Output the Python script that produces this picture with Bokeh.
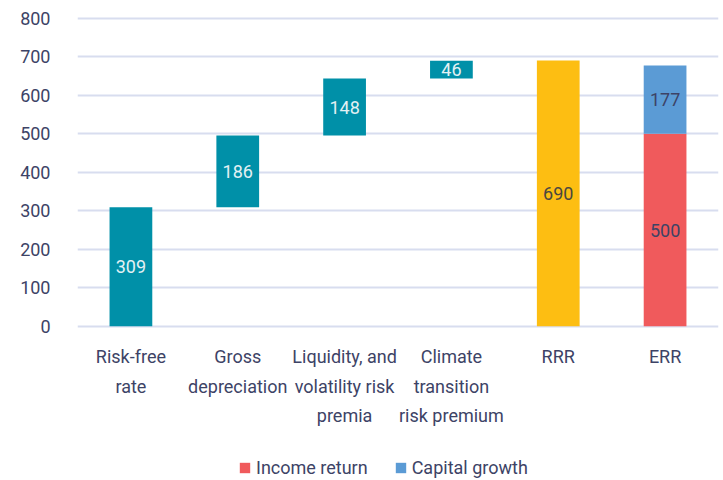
from bokeh.plotting import figure
from bokeh.models import ColumnDataSource, Legend, LegendItem, FactorRange, Range1d, FixedTicker
from bokeh.core.properties import value
from bokeh.embed import file_html
from bokeh.resources import INLINE

# ---- data ----
categories = ["Risk-free\nrate", "Gross\ndepreciation", "Liquidity, and\nvolatility risk\npremia",
              "Climate\ntransition\nrisk premium", "RRR", "ERR"]
step_values = [309, 186, 148, 46]
rrr_value = 690
income_return = 500
capital_growth = 177
y_ticks = [0, 100, 200, 300, 400, 500, 600, 700, 800]

FONT = "Roboto"
TXT = "#3d4366"

# waterfall bottoms / tops
bottoms, tops = [], []
run = 0
for v in step_values:
    bottoms.append(run)
    run += v
    tops.append(run)

steps = ColumnDataSource(dict(x=categories[:4], bottom=bottoms, top=tops,
                              mid=[(b + t) / 2 for b, t in zip(bottoms, tops)],
                              lab=[str(v) for v in step_values]))
rrr = ColumnDataSource(dict(x=[categories[4]], bottom=[0], top=[rrr_value],
                            mid=[rrr_value / 2], lab=[str(rrr_value)]))
inc = ColumnDataSource(dict(x=[categories[5]], bottom=[0], top=[income_return],
                           mid=[income_return / 2], lab=[str(income_return)]))
cap = ColumnDataSource(dict(x=[categories[5]], bottom=[income_return], top=[income_return + capital_growth],
                           mid=[income_return + capital_growth / 2], lab=[str(capital_growth)]))

# frame extends below zero so the category labels and legend sit inside it
p = figure(x_range=FactorRange(*categories), y_range=Range1d(-400, 804),
           frame_width=641, frame_height=464,
           min_border_left=77, min_border_top=16, min_border_right=5, min_border_bottom=0,
           output_backend="svg", toolbar_location=None)

W = 0.4
p.vbar(x="x", bottom="bottom", top="top", width=W, source=steps, color="#0090a8", line_color=None)
p.vbar(x="x", bottom="bottom", top="top", width=W, source=rrr, color="#fdbe12", line_color=None)
r_inc = p.vbar(x="x", bottom="bottom", top="top", width=W, source=inc, color="#f05a5c", line_color=None)
r_cap = p.vbar(x="x", bottom="bottom", top="top", width=W, source=cap, color="#5b9bd5", line_color=None)

for src, col in [(steps, "#e3f1f4"), (rrr, "#4a4740"), (inc, TXT), (cap, TXT)]:
    p.text(x="x", y="mid", text="lab", source=src, text_align="center", text_baseline="middle",
           text_color=col, text_font=value(FONT), text_font_size="18px")

p.xgrid.visible = False
p.ygrid.grid_line_color = "#d8ddef"
p.ygrid.grid_line_width = 2
p.outline_line_color = None

p.yaxis.ticker = FixedTicker(ticks=y_ticks)
for ax in (p.xaxis[0], p.yaxis[0]):
    ax.axis_line_color = None
    ax.major_tick_line_color = None
    ax.minor_tick_line_color = None
    ax.major_label_text_font = FONT
    ax.major_label_text_font_size = "18px"
    ax.major_label_text_color = TXT
p.yaxis.major_label_standoff = 21
p.xaxis.fixed_location = 0
p.xaxis.major_label_standoff = 14
p.xaxis.major_label_text_line_height = 1.4

legend = Legend(items=[LegendItem(label="Income return", renderers=[r_inc]),
                       LegendItem(label="Capital growth", renderers=[r_cap])],
                orientation="horizontal", location=(161, 2.5),
                glyph_width=13, glyph_height=13, label_standoff=5, spacing=26,
                label_text_font=FONT, label_text_font_size="18px", label_text_color=TXT,
                border_line_color=None, background_fill_alpha=0, margin=0, padding=0)
p.add_layout(legend, "center")

open("out.html", "w").write(file_html(p, INLINE))
